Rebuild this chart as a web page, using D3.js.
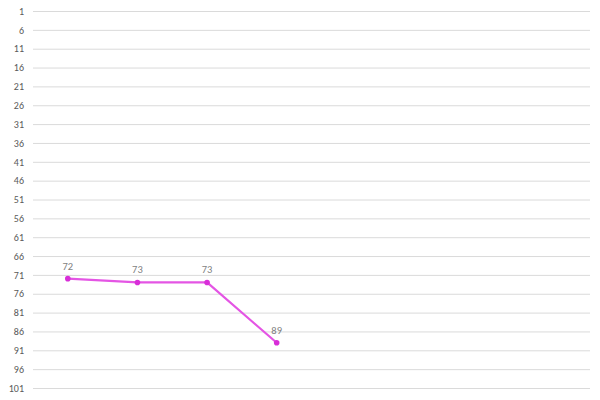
<!DOCTYPE html>
<html><head><meta charset="utf-8">
<script src="https://cdn.jsdelivr.net/npm/d3@7"></script>
<style>body{margin:0;background:#fff}svg{display:block}</style>
</head><body>
<svg id="c" width="600" height="400"></svg>
<script>
const categories = ["A","B","C","D","E","F","G","H"];
const values = [72, 73, 73, 89];
const yTicks = d3.range(1, 102, 5);

const svg = d3.select("#c");
const m = {left:33, right:10, top:11, bottom:12};
const W = 600, H = 400;
const x = d3.scaleBand().domain(categories).range([m.left, W - m.right]);
const y = d3.scaleLinear().domain([1, 101]).range([m.top, H - m.bottom]);
const font = "Calibri, Carlito, 'Open Sans', sans-serif";

const yAxis = d3.axisLeft(y).tickValues(yTicks).tickSize(-(W - m.right - m.left)).tickPadding(9);
const g = svg.append("g").attr("transform", `translate(${m.left},0)`).call(yAxis);
g.select(".domain").remove();
g.selectAll(".tick line").attr("stroke", "#dadada").attr("stroke-width", 1);
g.selectAll(".tick text").attr("fill", "#595959").attr("font-family", font).attr("font-size", 10);

const pts = values.map((v, i) => ({c: categories[i], v}));
const line = d3.line().x(d => x(d.c) + x.bandwidth()/2).y(d => y(d.v));
svg.append("path").datum(pts).attr("d", line).attr("fill", "none")
  .attr("stroke", "#e455e4").attr("stroke-width", 2.2).attr("stroke-linejoin", "round");
svg.selectAll("circle.p").data(pts).join("circle").attr("class","p")
  .attr("cx", d => x(d.c) + x.bandwidth()/2).attr("cy", d => y(d.v)).attr("r", 2.8)
  .attr("fill", "#d82ed8");
svg.selectAll("text.lbl").data(pts).join("text").attr("class","lbl")
  .attr("x", d => x(d.c) + x.bandwidth()/2).attr("y", d => y(d.v) - 9)
  .attr("text-anchor", "middle").attr("fill", "#7f7f7f")
  .attr("font-family", font).attr("font-size", 10.5)
  .text(d => d.v);
</script>
</body></html>
